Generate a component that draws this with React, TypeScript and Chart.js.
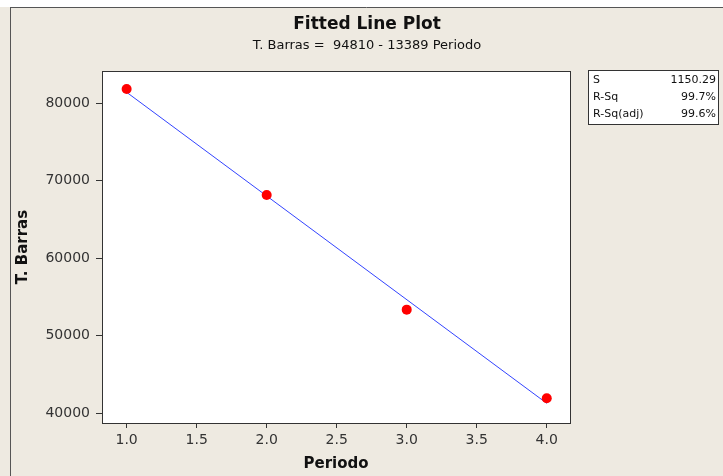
import React, { useEffect, useRef } from "react";
import { Chart, registerables } from "chart.js";

Chart.register(...registerables);

const periodo = [1, 2, 3, 4];
const tBarras = [81850, 68150, 53350, 41900];
const fitPeriodo = [1, 4];
const fitTBarras = [81421, 41254];
const xTicks = [1.0, 1.5, 2.0, 2.5, 3.0, 3.5, 4.0];
const yTicks = [40000, 50000, 60000, 70000, 80000];
const statLabels = ["S", "R-Sq", "R-Sq(adj)"];
const statValues = ["1150.29", "99.7%", "99.6%"];
const titleText = "Fitted Line Plot";
const subtitleText = "T. Barras =  94810 - 13389 Periodo";

const W = 723;
const H = 476;
const BEIGE = "#EEEAE1";

const framePlugin = {
  id: "minitabFrame",
  beforeDraw(chart: any) {
    const ctx = chart.ctx;
    const a = chart.chartArea;
    ctx.save();
    ctx.fillStyle = "#ffffff";
    ctx.fillRect(0, 0, W, H);
    ctx.fillStyle = BEIGE;
    ctx.fillRect(0, 7, W, H - 7);
    ctx.strokeStyle = "#555555";
    ctx.lineWidth = 1;
    ctx.beginPath();
    ctx.moveTo(10, 7.5);
    ctx.lineTo(W, 7.5);
    ctx.moveTo(10.5, 7);
    ctx.lineTo(10.5, H);
    ctx.stroke();
    ctx.fillStyle = "#ffffff";
    ctx.fillRect(a.left, a.top, a.right - a.left, a.bottom - a.top);
    ctx.restore();
  },
  afterDraw(chart: any) {
    const ctx = chart.ctx;
    const a = chart.chartArea;
    ctx.save();
    ctx.strokeStyle = "#333333";
    ctx.lineWidth = 1;
    ctx.strokeRect(Math.round(a.left) + 0.5, Math.round(a.top) + 0.5, Math.round(a.right - a.left), Math.round(a.bottom - a.top));

    ctx.fillStyle = "#111111";
    ctx.textAlign = "center";
    ctx.textBaseline = "middle";
    ctx.font = "bold 17px 'DejaVu Sans'";
    ctx.fillText(titleText, 367, 25);
    ctx.font = "13px 'DejaVu Sans'";
    ctx.fillText(subtitleText, 367, 46);

    // stats box
    const bx = 588, by = 70, bw = 130, bh = 54;
    ctx.fillStyle = "#ffffff";
    ctx.fillRect(bx, by, bw, bh);
    ctx.strokeStyle = "#333333";
    ctx.strokeRect(bx + 0.5, by + 0.5, bw, bh);
    ctx.fillStyle = "#111111";
    ctx.font = "11px 'DejaVu Sans'";
    statLabels.forEach((lab, i) => {
      const yy = by + 10 + i * 17;
      ctx.textAlign = "left";
      ctx.fillText(lab, bx + 5, yy);
      ctx.textAlign = "right";
      ctx.fillText(statValues[i], bx + bw - 2, yy);
    });
    ctx.restore();
  },
};

export default function App() {
  const ref = useRef<HTMLCanvasElement>(null);
  useEffect(() => {
    document.body.style.margin = "0";
    const cv = ref.current;
    if (!cv) return;
    const chart = new Chart(cv, {
      type: "scatter",
      data: {
        datasets: [
          {
            label: "Data",
            data: periodo.map((p, i) => ({ x: p, y: tBarras[i] })),
            backgroundColor: "#ff0000",
            borderColor: "#ff0000",
            pointRadius: 5,
            pointBorderWidth: 0,
            showLine: false,
            order: 0,
          },
          {
            label: "Fit",
            data: fitPeriodo.map((p, i) => ({ x: p, y: fitTBarras[i] })),
            borderColor: "#3344ff",
            borderWidth: 1,
            pointRadius: 0,
            showLine: true,
            order: 1,
          },
        ],
      },
      options: {
        responsive: false,
        animation: false,
        events: [],
        layout: { padding: { left: 0, top: 71, right: 153, bottom: 0 } },
        plugins: { legend: { display: false }, tooltip: { enabled: false }, title: { display: false } },
        scales: {
          x: {
            type: "linear",
            min: 0.824,
            max: 4.166,
            afterBuildTicks: (s: any) => { s.ticks = xTicks.map((v) => ({ value: v })); },
            afterFit: (s: any) => { s.height = 53; },
            grid: { drawOnChartArea: false, drawTicks: true, tickLength: 5, color: "#333333" },
            border: { display: true, color: "#333333" },
            ticks: {
              color: "#333333",
              font: { family: "'DejaVu Sans'", size: 14 },
              padding: 4,
              maxRotation: 0,
              callback: (v: any) => Number(v).toFixed(1),
            },
            title: {
              display: true,
              text: "Periodo",
              color: "#111111",
              font: { family: "'DejaVu Sans'", size: 15, weight: "bold" },
              padding: { top: 0, bottom: 3 },
            },
          },
          y: {
            type: "linear",
            min: 38710,
            max: 84170,
            afterBuildTicks: (s: any) => { s.ticks = yTicks.map((v) => ({ value: v })); },
            afterFit: (s: any) => { s.width = 102; },
            grid: { drawOnChartArea: false, drawTicks: true, tickLength: 6, color: "#333333" },
            border: { display: true, color: "#333333" },
            ticks: {
              color: "#333333",
              font: { family: "'DejaVu Sans'", size: 14 },
              padding: 6,
              callback: (v: any) => String(v),
            },
            title: {
              display: true,
              text: "T. Barras",
              color: "#111111",
              font: { family: "'DejaVu Sans'", size: 15, weight: "bold" },
              padding: { top: 14, bottom: 0 },
            },
          },
        },
      },
      plugins: [framePlugin],
    } as any);
    return () => chart.destroy();
  }, []);
  return (
    <div style={{ width: W, height: H }}>
      <canvas ref={ref} width={W} height={H} style={{ display: "block" }} />
    </div>
  );
}
